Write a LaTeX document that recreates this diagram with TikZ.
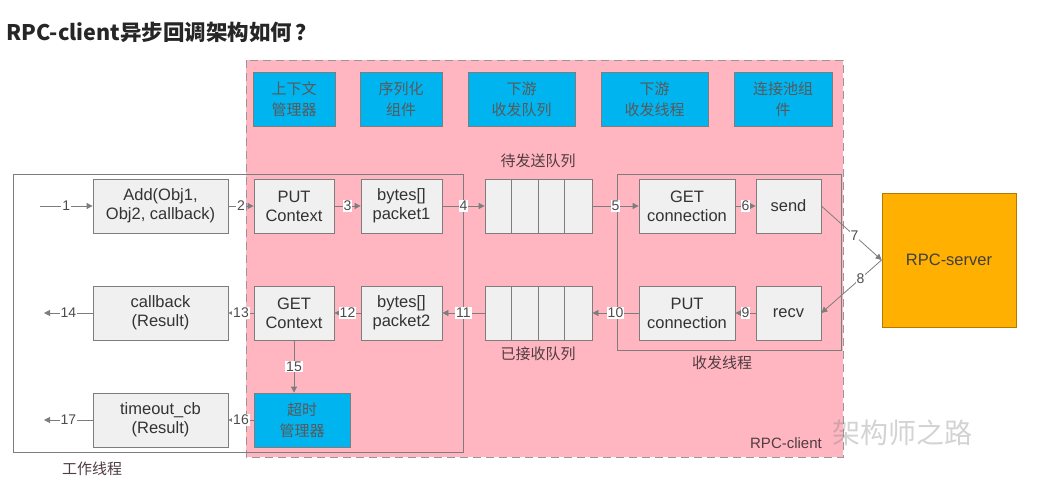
\documentclass[tikz,border=0pt]{standalone}
\usepackage{fontspec}
\setmainfont{Liberation Sans}
\newfontfamily\cjk{Noto Sans CJK SC}
\usetikzlibrary{arrows.meta}

\definecolor{pinkbg}{RGB}{255,182,193}
\definecolor{boxblue}{RGB}{0,180,240}
\definecolor{srvorange}{RGB}{255,176,0}
\definecolor{linegray}{RGB}{125,125,125}
\definecolor{boxgray}{RGB}{240,240,240}
\definecolor{textgray}{RGB}{80,60,65}

\tikzset{
  procbox/.style={draw=linegray, fill=boxgray, thick, align=center, inner sep=0pt,
    font=\fontsize{16.5}{19}\selectfont, text=black!80},
  compbox/.style={draw=linegray, fill=boxblue, thick, align=center, inner sep=0pt,
    font=\cjk\fontsize{15}{21}\selectfont, text=black!65},
  queuebox/.style={draw=linegray, fill=boxgray, thick, inner sep=0pt,
    minimum width=107pt, minimum height=54pt},
  flow/.style={draw=linegray, thick, -{Triangle[length=6pt,width=6pt]}},
  num/.style={fill=white, inner sep=1pt, font=\fontsize{14}{14}\selectfont, text=black!70},
  caption/.style={font=\cjk\fontsize{15}{17}\selectfont, text=textgray},
}

\begin{document}
\begin{tikzpicture}[x=1pt, y=-1pt]
    \useasboundingbox (0,0) rectangle (1039,489);

    % title
    \node[anchor=west, font=\cjk\bfseries\fontsize{21.5}{23}\selectfont, text=black!85] (title) at (3,32) {RPC-client异步回调架构如何\,？};

    % RPC-client region and work thread frame
    \draw[draw=linegray!80, fill=pinkbg, thick, dash pattern=on 8pt off 5pt] (246,60) rectangle (843,457);
    \draw[draw=linegray, thick] (13,174) rectangle (463,452);
    \draw[draw=linegray, thick] (617,174) rectangle (841,350);

    % components
    \node[compbox, minimum width=82pt, minimum height=54pt] (ctxmgr) at (294,99.5) {上下文\\管理器};
    \node[compbox, minimum width=82pt, minimum height=54pt] (serial) at (401,99.5) {序列化\\组件};
    \node[compbox, minimum width=107pt, minimum height=54pt] (dsqueue) at (521.5,99.5) {下游\\收发队列};
    \node[compbox, minimum width=107pt, minimum height=54pt] (dsthread) at (654.5,99.5) {下游\\收发线程};
    \node[compbox, minimum width=98pt, minimum height=54pt] (pool) at (783,99.5) {连接池组\\件};

    % send path
    \node[procbox, minimum width=135pt, minimum height=54pt] (add) at (160.5,206) {Add(Obj1,\\Obj2, callback)};
    \node[procbox, minimum width=80pt, minimum height=54pt] (putctx) at (294,206) {PUT\\Context};
    \node[procbox, minimum width=81pt, minimum height=54pt] (pkone) at (401.5,206) {bytes[]\\packet1};
    \node[queuebox] (sendq) at (538.5,206) {};
    \node[procbox, minimum width=96pt, minimum height=54pt] (getconn) at (687,206) {GET\\connection};
    \node[procbox, minimum width=65pt, minimum height=54pt] (send) at (788.5,206) {send};

    % receive path
    \node[procbox, minimum width=135pt, minimum height=54pt] (cb) at (160.5,313) {callback\\(Result)};
    \node[procbox, minimum width=80pt, minimum height=54pt] (getctx) at (294,313) {GET\\Context};
    \node[procbox, minimum width=81pt, minimum height=54pt] (pktwo) at (401.5,313) {bytes[]\\packet2};
    \node[queuebox] (recvq) at (538.5,313) {};
    \node[procbox, minimum width=96pt, minimum height=54pt] (putconn) at (687,313) {PUT\\connection};
    \node[procbox, minimum width=65pt, minimum height=54pt] (recv) at (788.5,313) {recv};

    % timeout path
    \node[procbox, minimum width=135pt, minimum height=54pt] (tcb) at (160.5,420) {timeout\_cb\\(Result)};
    \node[compbox, minimum width=96pt, minimum height=54pt] (timer) at (302,420) {超时\\管理器};

    % server
    \node[draw=srvorange!70!black, fill=srvorange, thick, minimum width=134pt, minimum height=134pt,
      font=\fontsize{16.5}{19}\selectfont, text=black!75] (server) at (949,260) {RPC-server};

    % queue cells
    \foreach \k in {1,2,3} {
        \draw[draw=linegray, thick] ([xshift=\k*26.75pt]sendq.north west) -- ([xshift=\k*26.75pt]sendq.south west);
        \draw[draw=linegray, thick] ([xshift=\k*26.75pt]recvq.north west) -- ([xshift=\k*26.75pt]recvq.south west);
    }

    % captions
    \node[caption] (sendqlbl) at (538,161) {待发送队列};
    \node[caption] (recvqlbl) at (538,354) {已接收队列};
    \node[caption] (thrlbl) at (722,363) {收发线程};
    \node[caption] (worklbl) at (92,469) {工作线程};
    \node[font=\fontsize{15}{17}\selectfont, text=textgray] (clientlbl) at (786,443) {RPC-client};
    \node[font=\cjk\fontsize{28}{30}\selectfont, text=gray, opacity=0.35] (wmark) at (902,433) {架构师之路};

    % connectors
    \coordinate (inone) at (40,206);
    \coordinate (outcb) at (44,313);
    \coordinate (outt) at (44,420);
    \draw[flow] (inone) -- node[num] {1} (add);
    \draw[flow] (add) -- node[num] {2} (putctx);
    \draw[flow] (putctx) -- node[num] {3} (pkone);
    \draw[flow] (pkone) -- node[num] {4} (sendq);
    \draw[flow] (sendq) -- node[num] {5} (getconn);
    \draw[flow] (getconn) -- node[num] {6} (send);
    \draw[flow] (send.east) -- node[num, pos=0.55] {7} (server.west);
    \draw[flow] (server.west) -- node[num, pos=0.35] {8} (recv.east);
    \draw[flow] (recv) -- node[num] {9} (putconn);
    \draw[flow] (putconn) -- node[num] {10} (recvq);
    \draw[flow] (recvq) -- node[num] {11} (pktwo);
    \draw[flow] (pktwo) -- node[num] {12} (getctx);
    \draw[flow] (getctx) -- node[num] {13} (cb);
    \draw[flow] (cb) -- node[num] {14} (outcb);
    \draw[flow] (getctx.south) -- node[num] {15} (timer.north -| getctx.south);
    \draw[flow] (timer) -- node[num] {16} (tcb);
    \draw[flow] (tcb) -- node[num] {17} (outt);
\end{tikzpicture}
\end{document}
